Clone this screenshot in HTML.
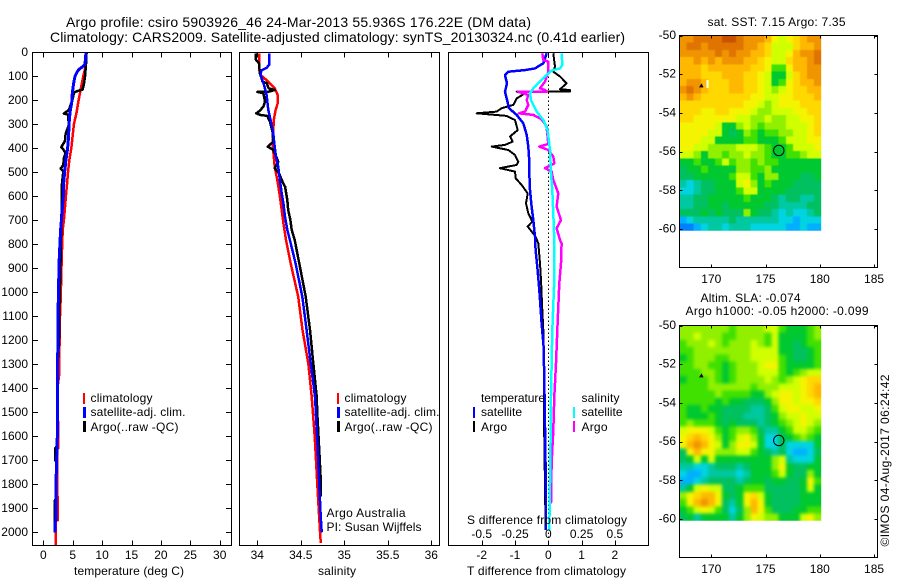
<!DOCTYPE html>
<html lang="en">
<head>
<meta charset="utf-8">
<title>Argo profile csiro 5903926_46</title>
<style>
html,body{margin:0;padding:0;background:#fff;}
#chart{display:block;width:900px;height:580px;}
text{font-family:"Liberation Sans",sans-serif;font-size:12px;fill:#000;}
.title{font-size:14px;}
</style>
</head>
<body>
<svg id="chart" xmlns="http://www.w3.org/2000/svg" width="900" height="580" viewBox="0 0 900 580">
  <defs>
    <filter id="soft-sst" x="-5%" y="-5%" width="110%" height="110%" color-interpolation-filters="sRGB">
      <feGaussianBlur stdDeviation="0.6"/>
      <feComponentTransfer><feFuncA type="linear" slope="20"/></feComponentTransfer>
    </filter>
    <filter id="soft-sla" x="-5%" y="-5%" width="110%" height="110%" color-interpolation-filters="sRGB">
      <feGaussianBlur stdDeviation="1.7"/>
      <feComponentTransfer><feFuncA type="linear" slope="20"/></feComponentTransfer>
    </filter>
    <clipPath id="clip-sst"><rect x="679.5" y="35.5" width="141.7" height="195.2"/></clipPath>
    <clipPath id="clip-sla"><rect x="679.5" y="325.5" width="141.7" height="195.2"/></clipPath>
  </defs>
  <rect x="0" y="0" width="900" height="580" fill="#fff"/>
  <text class="title" x="66" y="27" textLength="465" lengthAdjust="spacing">Argo profile: csiro 5903926_46 24-Mar-2013 55.936S 176.22E (DM data)</text>
  <text class="title" x="50" y="42" textLength="575" lengthAdjust="spacing">Climatology: CARS2009. Satellite-adjusted climatology: synTS_20130324.nc (0.41d earlier)</text>

  <g id="panel-temp"></g>
  <g id="panel-sal"></g>
  <g id="panel-diff"></g>
  <g id="map-sst"></g>
  <g id="map-sla"></g>

  <text x="74" y="575" textLength="110" lengthAdjust="spacing">temperature (deg C)</text>
  <text x="318" y="575" textLength="38" lengthAdjust="spacing">salinity</text>
  <text x="467" y="524" textLength="160" lengthAdjust="spacing">S difference from climatology</text>
  <text x="467" y="575" textLength="159" lengthAdjust="spacing">T difference from climatology</text>

  <g shape-rendering="crispEdges">
    <rect x="83" y="393" width="2" height="11" fill="#f00"/>
    <rect x="83" y="407" width="3" height="11" fill="#00f"/>
    <rect x="83" y="421" width="3" height="11" fill="#000"/>
    <text x="90.5" y="402" textLength="62" lengthAdjust="spacing">climatology</text>
    <text x="90.5" y="416" textLength="95" lengthAdjust="spacing">satellite-adj. clim.</text>
    <text x="90.5" y="431" textLength="88" lengthAdjust="spacing">Argo(..raw -QC)</text>
  </g>
  <g shape-rendering="crispEdges">
    <rect x="337" y="393" width="2" height="11" fill="#f00"/>
    <rect x="337" y="407" width="3" height="11" fill="#00f"/>
    <rect x="337" y="421" width="3" height="11" fill="#000"/>
    <text x="344.5" y="402" textLength="62" lengthAdjust="spacing">climatology</text>
    <text x="344.5" y="416" textLength="95" lengthAdjust="spacing">satellite-adj. clim.</text>
    <text x="344.5" y="431" textLength="88" lengthAdjust="spacing">Argo(..raw -QC)</text>
    <text x="326.5" y="517" textLength="79" lengthAdjust="spacing">Argo Australia</text>
    <text x="326.5" y="531" textLength="95" lengthAdjust="spacing">PI: Susan Wijffels</text>
  </g>
  <g shape-rendering="crispEdges">
    <text x="481" y="402" textLength="64" lengthAdjust="spacing">temperature</text>
    <rect x="473" y="407" width="2" height="11" fill="#00f"/>
    <rect x="473" y="421" width="2" height="11" fill="#000"/>
    <text x="481" y="416" textLength="41" lengthAdjust="spacing">satellite</text>
    <text x="481" y="431" textLength="26" lengthAdjust="spacing">Argo</text>
    <text x="581.5" y="402" textLength="38" lengthAdjust="spacing">salinity</text>
    <rect x="573" y="407" width="2" height="11" fill="#0ff"/>
    <rect x="573" y="421" width="2" height="11" fill="#f0f"/>
    <text x="581.5" y="416" textLength="41" lengthAdjust="spacing">satellite</text>
    <text x="581.5" y="431" textLength="26" lengthAdjust="spacing">Argo</text>
  </g>

  <text x="707.5" y="26" textLength="138" lengthAdjust="spacing">sat. SST: 7.15 Argo: 7.35</text>
  <text x="700.5" y="302" textLength="100" lengthAdjust="spacing">Altim. SLA: -0.074</text>
  <text x="685.5" y="315" textLength="183" lengthAdjust="spacing">Argo h1000: -0.05 h2000: -0.099</text>
  <text transform="translate(889 546.5) rotate(-90)" x="0" y="0" textLength="172" lengthAdjust="spacing">©IMOS 04-Aug-2017 06:24:42</text>
</svg>

<script>
// ---------- chart data ----------
const depthTicks = [0,100,200,300,400,500,600,700,800,900,1000,1100,1200,1300,1400,1500,1600,1700,1800,1900,2000];
const tempTicks = [0,5,10,15,20,25,30];
const salTicks = [34,34.5,35,35.5,36];
const salTickLabels = ["34","34.5","35","35.5","36"];
const tDiffTicks = [-2,-1,0,1,2];
const tDiffTickLabels = ["-2","-1","0","1","2"];
const sDiffTicks = [-0.5,-0.25,0,0.25,0.5];
const sDiffTickLabels = ["-0.5","-0.25","0","0.25","0.5"];
const lonTicks = [170,175,180,185];
const latTicks = [50,52,54,56,58,60];
const latTickLabels = ["-50","-52","-54","-56","-58","-60"];

const tempClimDepth = [0,50,100,150,200,250,300,350,400,450,500,550,600,700,741,822,860,1024,1100,1351,1400,1530,1540,1650,1651,1850,1851,1950,1951,2054];
const tempClimValue = [7.37,7.26,6.8,6.4,6.0,5.67,5.2,4.99,4.76,4.42,4.2,4.03,3.85,3.5,3.3,3.18,3.13,2.96,2.84,2.67,2.4,2.4,2.55,2.55,2.35,2.35,2.45,2.45,2.1,2.1];
const tempSatDepth = [0,50,60,70,80,100,130,170,200,220,250,300,350,400,450,500,550,600,741,852,1018,1198,1351,1600,1700,1800,1950,1960,2000];
const tempSatValue = [7.26,7.09,6.69,6.12,5.78,5.39,5.16,4.93,4.88,4.76,4.54,4.37,4.31,4.14,3.85,3.63,3.46,3.4,2.95,2.72,2.55,2.5,2.38,2.38,2.27,2.16,2.16,1.98,1.98];
const tempArgoDepth = [0,50,100,130,155,165,170,200,220,240,255,260,280,300,340,370,395,405,420,440,470,485,495,550,600,790,900,1100,1198,1340,1600,1640,1650,1700,1710,1860,1870,1960,1970];
const tempArgoValue = [7.37,7.26,7.09,6.92,6.69,5.39,5.2,4.93,4.65,4.37,3.51,4.25,4.25,4.37,3.8,3.68,3.06,3.4,3.8,3.51,3.4,2.95,3.4,3.17,3.17,3.0,2.9,2.7,2.67,2.35,2.35,2.3,2.04,2.04,2.27,2.16,1.93,1.93,2.0];

const salClimDepth = [4,74,95,122,150,178,213,240,282,324,379,435,476,532,601,657,712,782,880,1018,1157,1296,1435,1600,1800,1990,2045];
const salClimValue = [34.02,34.023,34.038,34.126,34.2,34.234,34.234,34.21,34.19,34.184,34.176,34.19,34.2,34.23,34.26,34.28,34.3,34.33,34.384,34.47,34.52,34.586,34.625,34.66,34.69,34.72,34.73];
const salSatDepth = [4,51,65,75,88,108,136,178,240,282,338,379,435,476,532,588,629,685,740,782,880,1018,1157,1296,1435,1505,1645,1785,1925,2000];
const salSatValue = [34.134,34.138,34.107,34.05,34.038,34.05,34.077,34.107,34.126,34.153,34.184,34.195,34.215,34.24,34.26,34.28,34.3,34.318,34.345,34.375,34.44,34.517,34.567,34.614,34.663,34.674,34.693,34.71,34.728,34.74];
const salArgoDepth = [4,32,46,88,122,129,150,157,164,165,171,206,226,243,254,261,265,289,331,372,393,407,428,456,483,504,539,560,615,657,699,740,782,880,1018,1157,1296,1435,1505,1645,1785,1850];
const salArgoValue = [33.98,33.985,34.02,34.03,34.06,34.11,34.13,34.2,34.13,34.0,34.07,34.09,34.07,34.03,33.99,34.03,34.115,34.145,34.175,34.185,34.12,34.185,34.21,34.24,34.2,34.25,34.29,34.32,34.345,34.355,34.38,34.395,34.43,34.483,34.556,34.606,34.644,34.683,34.69,34.71,34.73,34.73];

const tDiffArgoDepth = [4,60,81,101,129,154,157,163,164,171,192,219,233,247,254,265,282,324,351,372,386,393,407,428,456,469,483,497,525,553,588,629,671,706,726,768,796,879,948,1074,1157,1296,1532,1810,1990];
const tDiffArgoValue = [0.15,0.2,0.15,0.35,0.55,0.35,0.65,0.65,-0.95,-0.7,-0.95,-1.05,-1.4,-1.55,-2.15,-1.25,-1.0,-0.92,-1.15,-1.07,-1.3,-1.7,-1.2,-1.0,-0.9,-0.95,-1.45,-1.0,-0.98,-0.8,-0.62,-0.67,-0.6,-0.48,-0.62,-0.38,-0.3,-0.25,-0.22,-0.18,-0.15,-0.13,-0.13,-0.1,-0.08];
const tDiffSatDepth = [4,25,46,67,74,81,95,129,164,192,233,261,296,344,393,435,504,574,643,699,768,824,907,990,1129,1226,1365,1560,1851,1990];
const tDiffSatValue = [-0.05,-0.1,-0.15,-0.4,-0.7,-1.2,-1.3,-1.24,-1.3,-1.25,-1.18,-0.95,-0.75,-0.65,-0.6,-0.58,-0.57,-0.55,-0.5,-0.45,-0.4,-0.38,-0.32,-0.27,-0.2,-0.14,-0.12,-0.1,-0.07,-0.07];
const sDiffArgoDepth = [4,32,39,81,101,122,150,157,164,164.5,178,199,219,247,254,261,279,310,351,382,393,407,435,463,483,497,532,588,643,699,733,782,796,879,962,1129,1296,1435,1574,1713,1879];
const sDiffArgoValue = [-0.045,-0.0375,0,0,-0.0125,-0.025,-0.0625,-0.025,-0.0125,-0.225,-0.15,-0.1625,-0.15,-0.175,-0.22,-0.1125,-0.05,-0.0125,-0.005,0,-0.0675,0,0.0375,0.045,-0.025,0.025,0.0375,0.075,0.0625,0.095,0.0625,0.0875,0.1,0.095,0.0825,0.07,0.0575,0.045,0.0375,0.025,0.02];
const sDiffSatDepth = [4,53,67,76,101,122,150,171,199,247,282,324,407,504,574,671,782,948,1157,1435,1713,1990];
const sDiffSatValue = [0.1,0.105,0.0875,0.025,-0.025,-0.0625,-0.1125,-0.1375,-0.13,-0.0875,-0.0375,-0.005,0.0125,0.02,0.03,0.0375,0.045,0.045,0.03,0.02,0.015,0.0075];

const sstGrid = [
[12,12,13,13,13,13,14,14,13,12,12,12,11,9,8,9,10,11,12,12],
[12,13,13,12,13,13,13,13,13,12,12,11,10,8,8,8,10,11,11,12],
[12,12,12,12,12,13,12,13,12,12,11,11,10,8,8,9,11,12,12,13],
[11,11,12,11,12,11,12,12,12,11,11,10,9,8,8,10,11,11,12,13],
[11,11,11,10,11,11,11,11,11,11,10,10,9,6,6,9,11,11,12,12],
[11,11,11,10,10,10,11,11,11,10,10,9,8,5,5,8,10,11,12,12],
[11,12,12,11,10,10,10,11,11,10,10,9,8,5,6,9,10,11,11,12],
[12,13,12,11,10,10,10,11,11,10,10,9,8,7,8,9,10,10,11,11],
[11,12,11,10,10,10,10,10,10,10,9,9,8,8,9,9,10,10,10,11],
[10,10,10,10,10,10,10,10,10,9,9,8,7,8,9,9,9,10,10,10],
[10,10,10,9,9,10,10,9,9,9,8,7,7,8,8,8,9,9,10,10],
[10,10,9,9,9,9,9,9,8,8,7,7,8,7,7,8,8,9,9,10],
[9,9,9,9,9,8,5,5,7,8,7,6,7,7,7,8,8,8,9,10],
[9,9,9,9,8,8,5,4,5,7,6,5,6,6,7,7,8,8,9,10],
[9,9,9,8,8,5,5,5,5,6,6,5,5,5,6,8,8,8,9,9],
[9,9,8,8,7,7,7,7,8,8,8,7,6,5,5,6,8,8,8,9],
[8,8,7,5,7,7,6,7,7,8,7,7,6,5,5,6,6,7,8,8],
[5,5,6,5,5,6,8,6,7,7,6,7,6,6,5,5,5,5,5,5],
[4,5,5,6,5,5,5,5,7,7,6,6,7,5,5,5,5,5,5,5],
[4,4,5,5,5,5,5,6,8,8,6,5,7,7,5,5,5,4,4,5],
[3,2,3,4,4,5,5,5,8,9,7,5,6,5,5,5,4,4,4,4],
[2,2,3,4,4,5,5,5,6,8,8,5,5,5,5,4,4,4,4,4],
[3,3,4,4,5,5,5,5,5,6,5,5,5,4,3,4,4,3,3,4],
[3,3,4,4,5,5,4,5,5,5,5,5,4,4,3,3,3,3,4,4],
[4,4,4,5,4,5,4,4,4,7,5,4,4,3,2,3,2,2,3,4],
[1,2,3,3,3,3,3,4,3,3,3,3,3,3,2,2,1,2,2,2],
[0,0,1,2,3,3,2,3,3,3,2,2,2,2,2,1,1,2,1,1]
];
const slaGrid = [
[7,7,7,7,7,7,7,6,7,7,7,7,8,8,6,5,5,5,6,7],
[7,7,8,7,7,7,6,6,7,7,7,7,6,8,5,5,5,5,6,7],
[6,7,7,7,8,7,6,7,7,7,8,7,6,8,5,5,4,5,6,6],
[6,6,7,7,7,7,7,7,7,7,8,8,8,8,5,5,4,4,5,6],
[5,6,7,7,7,6,6,7,7,7,8,8,8,8,6,5,4,4,5,6],
[6,6,7,7,6,6,5,6,7,7,7,8,9,9,6,5,5,5,5,6],
[6,6,6,7,7,6,5,6,7,7,7,8,8,8,6,5,6,7,8,8],
[5,6,6,6,7,6,5,6,7,7,7,7,8,7,6,7,8,9,10,10],
[6,6,6,6,7,7,7,7,7,7,6,7,7,7,8,8,8,9,10,11],
[6,6,6,6,6,7,6,6,6,6,5,5,7,8,9,9,8,9,10,11],
[6,6,6,6,6,5,6,5,5,4,4,4,5,7,9,9,8,9,9,10],
[6,5,5,6,5,5,4,4,4,4,3,3,4,6,8,9,9,8,8,9],
[6,5,5,5,6,5,4,4,4,3,3,3,4,5,7,8,8,9,8,8],
[6,7,6,6,6,5,4,5,4,4,4,3,4,5,6,7,8,9,8,7],
[8,9,9,9,8,6,5,6,7,7,6,4,3,3,5,6,8,8,7,6],
[9,10,11,10,9,7,5,6,8,9,7,5,2,2,4,5,6,7,6,5],
[9,11,12,11,9,8,5,7,9,9,8,5,2,2,4,2,2,2,2,5],
[4,9,11,9,9,7,7,7,8,8,6,5,4,3,4,2,1,1,2,4],
[4,5,8,5,8,5,5,5,5,5,5,5,5,7,8,3,2,2,2,5],
[3,3,2,2,3,4,4,4,3,4,5,5,5,7,9,5,4,4,5,5],
[2,1,1,2,3,3,3,3,2,3,5,5,5,6,8,5,4,4,7,5],
[1,1,2,3,4,4,4,4,3,4,5,5,4,5,5,4,4,5,9,6],
[3,5,8,9,8,8,4,4,5,6,6,6,4,4,4,4,4,5,8,5],
[7,9,10,11,11,9,5,4,5,9,10,8,5,4,4,4,4,5,5,5],
[6,9,11,12,11,9,4,3,5,9,11,9,5,4,4,4,4,5,5,5],
[5,6,8,9,8,6,4,2,4,7,11,9,6,4,4,4,5,5,6,6],
[4,5,3,5,5,5,5,3,5,7,9,8,7,7,5,5,5,8,9,7]
];
const profileLon = 176.22;
const profileLat = 55.936;
const floatLon = 169.1;
const floatLat = 52.6;

// ---------- colour scale ----------
const levelColors = ["#0080ff","#00b0ff","#00d4e0","#00c8a0","#00c060","#00c830","#40e000","#90f000","#d0ff00","#f4f400","#ffd800","#ffb800","#f09400","#e07400","#c85000"];

// ---------- axis functions ----------
const depthY = d => 52.3 + d * 0.24;
const tempX = t => 43.3 + t * 5.88;
const salX = s => 257.3 + (s - 34) * 87;
const tDiffX = t => 548.3 + t * 33.3;
const sDiffX = s => 548.3 + s * 133.2;
const lonX = lon => 711.3 + (lon - 170) * 10.85;
const latY = (lat, top) => top + (lat - 50) * 19.37;

// ---------- helpers ----------
const NS = "http://www.w3.org/2000/svg";
function make(tag, parent) {
  const el = document.createElementNS(NS, tag);
  parent.appendChild(el);
  return el;
}
function drawTick(parent, x1, y1, x2, y2, name) {
  const el = make("line", parent);
  
  
  el.setAttribute("x1", x1); el.setAttribute("y1", y1);
  el.setAttribute("x2", x2); el.setAttribute("y2", y2);
  el.setAttribute("stroke", "#000");
  el.setAttribute("stroke-width", "1");
  el.setAttribute("shape-rendering", "crispEdges");
}
function drawLabel(parent, x, y, str, anchor, name) {
  const el = make("text", parent);
  
  
  el.setAttribute("x", x); el.setAttribute("y", y);
  el.setAttribute("text-anchor", anchor);
  el.textContent = str;
}
function drawFrame(parent, x0, y0, x1, y1) {
  const el = make("rect", parent);
  
  
  el.setAttribute("x", x0); el.setAttribute("y", y0);
  el.setAttribute("width", x1 - x0); el.setAttribute("height", y1 - y0);
  el.setAttribute("fill", "none");
  el.setAttribute("stroke", "#000");
  el.setAttribute("shape-rendering", "crispEdges");
}
function drawSeries(parent, depths, values, xFn, color, width, name) {
  const el = make("polyline", parent);
  
  
  const pts = depths.map((d, i) => xFn(values[i]).toFixed(1) + "," + depthY(d).toFixed(1)).join(" ");
  el.setAttribute("points", pts);
  el.setAttribute("fill", "none");
  el.setAttribute("stroke", color);
  el.setAttribute("stroke-width", width);
  el.setAttribute("stroke-linejoin", "round");
  el.setAttribute("shape-rendering", "crispEdges");
}
function drawXTicks(parent, ticks, labels, xFn, yTop, yBot, labelY, name) {
  ticks.forEach((v, i) => {
    const x = Math.round(xFn(v)) + 0.5;
    drawTick(parent, x, yTop, x, yTop + 5, name + "-top-tick");
    drawTick(parent, x, yBot, x, yBot - 5, name + "-bottom-tick");
    drawLabel(parent, xFn(v), labelY, labels[i], "middle", name + "-tick-label");
  });
}
function drawHeatmap(parent, grid, top, name, filterId, clipId) {
  const lon0 = 167.07, dLon = 0.653, dLat = 0.3733;
  const clipGroup = make("g", parent);
  
  
  clipGroup.setAttribute("clip-path", "url(#" + clipId + ")");
  const cellGroup = make("g", clipGroup);
  
  
  cellGroup.setAttribute("filter", "url(#" + filterId + ")");
  grid.forEach((row, r) => {
    row.forEach((v, c) => {
      const el = make("rect", cellGroup);
      
      
      const x0 = lonX(lon0 + c * dLon), x1 = lonX(lon0 + (c + 1) * dLon);
      const y0 = latY(50 + r * dLat, top), y1 = latY(50 + (r + 1) * dLat, top);
      el.setAttribute("x", x0); el.setAttribute("y", y0);
      el.setAttribute("width", x1 - x0 + 0.5); el.setAttribute("height", y1 - y0 + 0.5);
      el.setAttribute("fill", levelColors[v]);
      el.setAttribute("shape-rendering", "crispEdges");
    });
  });
}
function drawMap(parent, grid, top, cellName, labelBase, filterId, clipId) {
  drawHeatmap(parent, grid, top, cellName, filterId, clipId);
  const bottom = top + 232, left = 679.5, right = 877.5;
  drawFrame(parent, left, top, right, bottom);
  lonTicks.forEach(v => {
    const x = Math.round(lonX(v)) + 0.5;
    drawTick(parent, x, top, x, top + 3, "map-top-tick");
    drawTick(parent, x, bottom, x, bottom - 3, "map-bottom-tick");
    drawLabel(parent, lonX(v), labelBase, String(v), "middle", "longitude-tick-label");
  });
  latTicks.forEach((v, i) => {
    const y = Math.round(latY(v, top)) + 0.5;
    drawTick(parent, left, y, left + 3, y, "map-left-tick");
    drawTick(parent, right, y, right - 3, y, "map-right-tick");
    drawLabel(parent, 676, latY(v, top) + 3.5, latTickLabels[i], "end", "latitude-tick-label");
  });
  const c = make("circle", parent);
  
  
  c.setAttribute("cx", lonX(profileLon));
  c.setAttribute("cy", latY(profileLat, top));
  c.setAttribute("r", "5.2");
  c.setAttribute("fill", "none");
  c.setAttribute("stroke", "#000");
  c.setAttribute("stroke-width", "1");
  const fx = lonX(floatLon), fy = latY(floatLat, top);
  const f = make("polygon", parent);
  
  
  f.setAttribute("points", (fx - 2.5) + "," + (fy + 1.5) + " " + fx + "," + (fy - 2.5) + " " + (fx + 2) + "," + (fy + 1.5));
  f.setAttribute("fill", "#000");
}

// ---------- temperature panel ----------
const pT = document.getElementById("panel-temp");
drawSeries(pT, tempClimDepth, tempClimValue, tempX, "#f00", 2.5, "temperature-climatology-line");
drawSeries(pT, tempArgoDepth, tempArgoValue, tempX, "#000", 2.5, "temperature-argo-line");
drawSeries(pT, tempSatDepth, tempSatValue, tempX, "#00f", 3, "temperature-satellite-line");
drawFrame(pT, 32.5, 52.5, 231.5, 545.5);
depthTicks.forEach(d => {
  const y = Math.round(depthY(d)) + 0.5;
  drawTick(pT, 32.5, y, 38, y, "depth-left-tick");
  drawTick(pT, 231.5, y, 226, y, "depth-right-tick");
  drawLabel(pT, 28, depthY(d) + 3.5, String(d), "end", "depth-tick-label");
});
drawXTicks(pT, tempTicks, tempTicks.map(String), tempX, 52.5, 545.5, 559, "temperature");

// ---------- salinity panel ----------
const pS = document.getElementById("panel-sal");
drawSeries(pS, salClimDepth, salClimValue, salX, "#f00", 2.5, "salinity-climatology-line");
drawSeries(pS, salArgoDepth, salArgoValue, salX, "#000", 2.5, "salinity-argo-line");
drawSeries(pS, salSatDepth, salSatValue, salX, "#00f", 2.5, "salinity-satellite-line");
drawFrame(pS, 239.5, 52.5, 439.5, 545.5);
drawXTicks(pS, salTicks, salTickLabels, salX, 52.5, 545.5, 559, "salinity");

// ---------- difference panel ----------
const pD = document.getElementById("panel-diff");
const zero = make("line", pD);


zero.setAttribute("x1", 548.5); zero.setAttribute("x2", 548.5);
zero.setAttribute("y1", 52.5); zero.setAttribute("y2", 545.5);
zero.setAttribute("stroke", "#000");
zero.setAttribute("stroke-dasharray", "1.5 2.5");
zero.setAttribute("shape-rendering", "crispEdges");
drawSeries(pD, tDiffArgoDepth, tDiffArgoValue, tDiffX, "#000", 2, "t-difference-argo-line");
drawSeries(pD, tDiffSatDepth, tDiffSatValue, tDiffX, "#00f", 2.5, "t-difference-satellite-line");
drawSeries(pD, sDiffArgoDepth, sDiffArgoValue, sDiffX, "#f0f", 2.5, "s-difference-argo-line");
drawSeries(pD, sDiffSatDepth, sDiffSatValue, sDiffX, "#0ff", 2.5, "s-difference-satellite-line");
drawFrame(pD, 448.5, 52.5, 648.5, 545.5);
drawXTicks(pD, tDiffTicks, tDiffTickLabels, tDiffX, 52.5, 545.5, 559, "t-difference");
sDiffTicks.forEach((v, i) => {
  drawLabel(pD, sDiffX(v), 538, sDiffTickLabels[i], "middle", "s-difference-tick-label");
});

// ---------- maps ----------
const mA = document.getElementById("map-sst");
drawMap(mA, sstGrid, 35.5, "sst-cell", 283, "soft-sst", "clip-sst");
const gap = make("rect", mA);


gap.setAttribute("x", lonX(169.55)); gap.setAttribute("y", latY(52.3, 35.5));
gap.setAttribute("width", 2); gap.setAttribute("height", 8);
gap.setAttribute("fill", "#fff");
gap.setAttribute("shape-rendering", "crispEdges");
const mB = document.getElementById("map-sla");
drawMap(mB, slaGrid, 325.5, "sla-cell", 573, "soft-sla", "clip-sla");
</script>
</body>
</html>
